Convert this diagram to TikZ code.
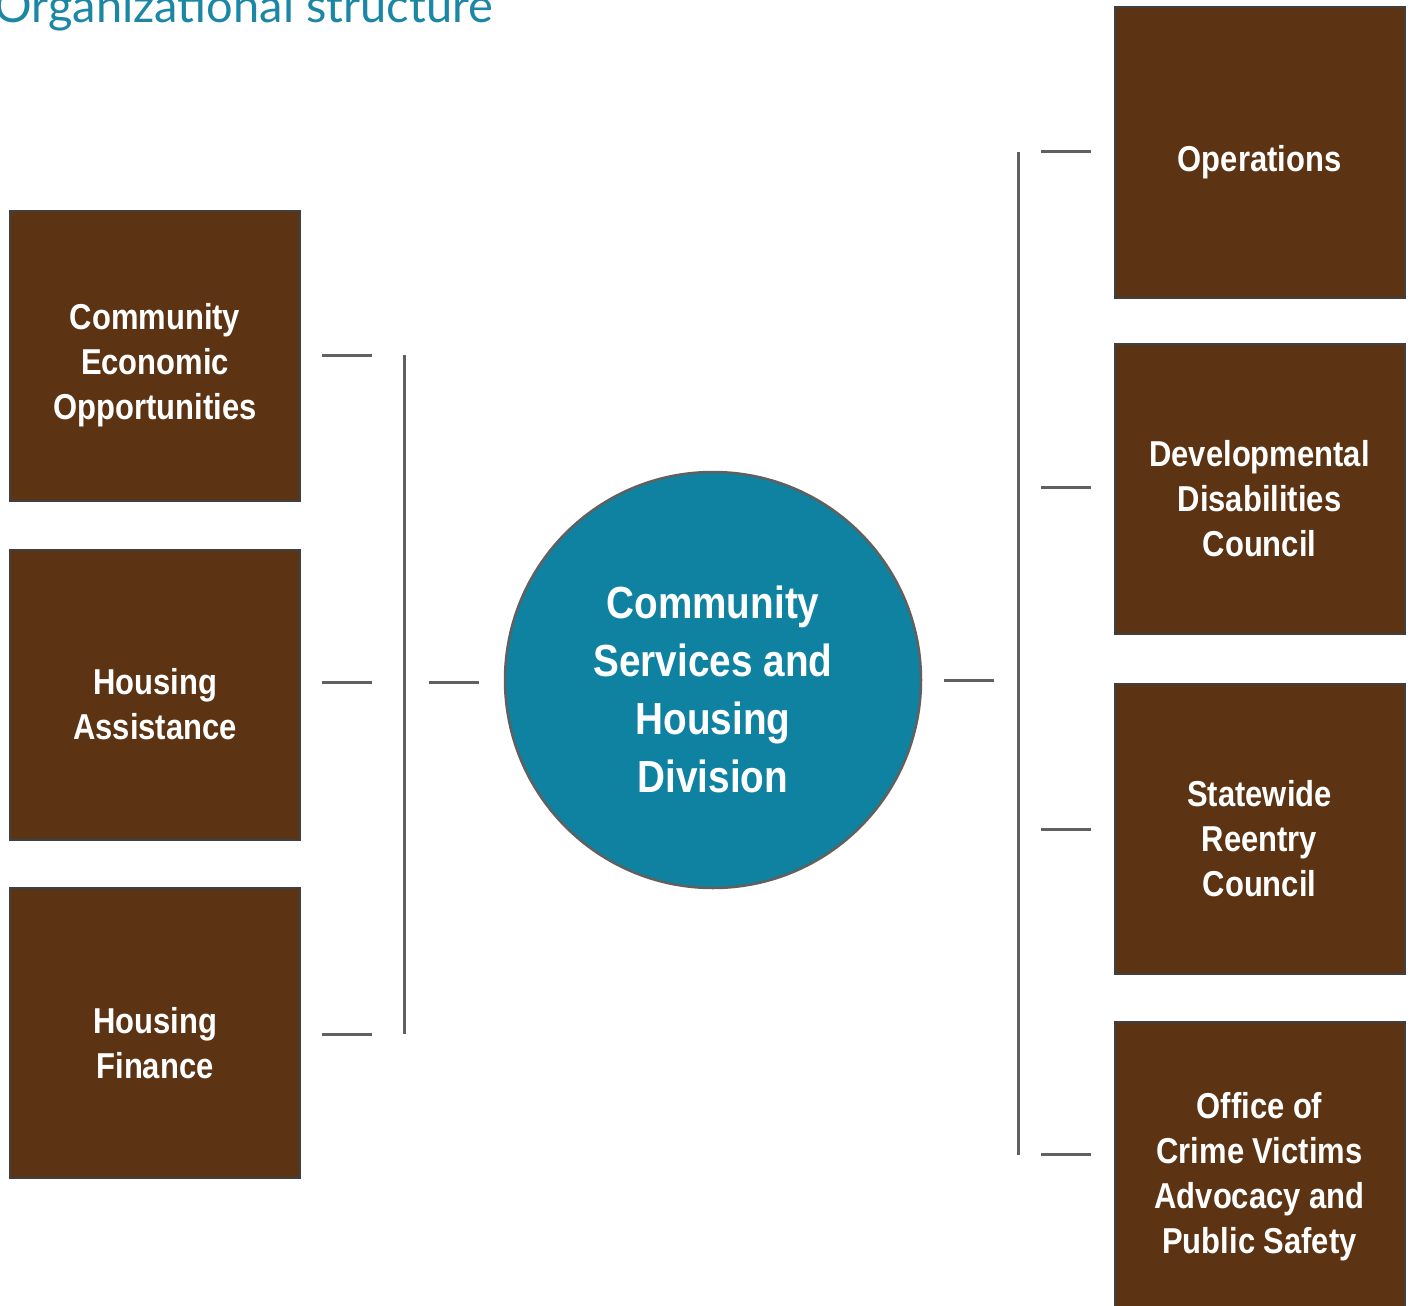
\documentclass[tikz,border=0pt]{standalone}
\usepackage{fontspec}
\newfontfamily\unitfont[FakeStretch=0.86]{Liberation Sans}
\newfontfamily\titlefont{Lato}
\usetikzlibrary{positioning}
\definecolor{unitbrown}{RGB}{92,51,19}
\definecolor{hubteal}{RGB}{14,130,160}
\definecolor{titleteal}{RGB}{27,135,165}
\definecolor{edgegray}{RGB}{64,64,64}
\definecolor{linkgray}{RGB}{96,96,96}

\begin{document}
\begin{tikzpicture}[x=1pt,y=-1pt,
    unit/.style={rectangle,
        draw=edgegray,
        line width=2pt,
        fill=unitbrown,
        minimum width=290pt,
        minimum height=290pt},
    unittext/.style={text=white,
        align=center,
        yshift=-10pt,
        font=\unitfont\bfseries\fontsize{36}{45}\selectfont},
    hub/.style={circle,
        draw=linkgray,
        line width=2.5pt,
        fill=hubteal,
        minimum size=416pt},
    hubtext/.style={text=white,
        align=center,
        yshift=-9pt,
        font=\unitfont\bfseries\fontsize{45}{58}\selectfont},
    link/.style={draw=linkgray, line width=3pt}]

    \useasboundingbox (0,0) rectangle (1416,1306);

    \node[anchor=base west,
          text=titleteal,
          font=\titlefont\fontsize{47}{47}\selectfont] (title) at (-9,23) {Organizational structure};

    % the division
    \node[hub] (CSHD) at (713,680) {};
    \node[hubtext] (CSHD-text) at (CSHD.center) {Community\\Services and\\Housing\\Division};

    % left column
    \node[unit] (CEO) at (155,355.5) {};
    \node[unittext] (CEO-text) at (CEO.center) {Community\\Economic\\Opportunities};
    \node[unit] (HA) at (155,694.5) {};
    \node[unittext] (HA-text) at (HA.center) {Housing\\Assistance};
    \node[unit] (HF) at (155,1033) {};
    \node[unittext] (HF-text) at (HF.center) {Housing\\Finance};

    % right column
    \node[unit] (OPS) at (1259.5,152.5) {};
    \node[unittext] (OPS-text) at (OPS.center) {Operations};
    \node[unit] (DDC) at (1259.5,488.5) {};
    \node[unittext] (DDC-text) at (DDC.center) {Developmental\\Disabilities\\Council};
    \node[unit] (SRC) at (1259.5,828.5) {};
    \node[unittext] (SRC-text) at (SRC.center) {Statewide\\Reentry\\Council};
    \node[unit] (OCVAPS) at (1259.5,1167) {};
    \node[unittext] (OCVAPS-text) at (OCVAPS.center) {Office of\\Crime Victims\\Advocacy and\\Public Safety};

    % left bracket
    \coordinate (LTop) at (404,355);
    \coordinate (LBot) at (404,1034);
    \draw[link] (LTop) -- (LBot);
    \draw[link] ([xshift=21pt]CEO.east |- LTop) -- ([xshift=71pt]CEO.east |- LTop);
    \draw[link] ([xshift=21pt]HA.east |- CSHD.center) ++(0,2) -- ++(50,0);
    \draw[link] ([xshift=21pt]HF.east |- LBot) -- ([xshift=71pt]HF.east |- LBot);
    \draw[link] ([xshift=-75pt]CSHD.west) ++(0,2) -- ++(50,0);

    % right bracket
    \coordinate (RTop) at (1018,152);
    \coordinate (RBot) at (1018,1155);
    \draw[link] (RTop) -- (RBot);
    \draw[link] ([xshift=22pt]CSHD.east) -- ([xshift=72pt]CSHD.east);
    \draw[link] ([xshift=-73pt]OPS.west |- RTop) ++(0,-1) -- ++(50,0);
    \draw[link] ([xshift=-73pt]DDC.west) ++(0,-1.5) -- ++(50,0);
    \draw[link] ([xshift=-73pt]SRC.west) ++(0,0.5) -- ++(50,0);
    \draw[link] ([xshift=-73pt]OCVAPS.west |- RBot) ++(0,-1) -- ++(50,0);

\end{tikzpicture}
\end{document}
